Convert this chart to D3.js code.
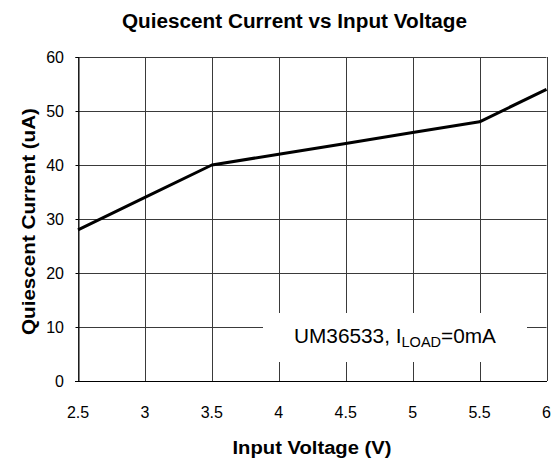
<!DOCTYPE html>
<html>
<head>
<meta charset="utf-8">
<script src="https://cdn.jsdelivr.net/npm/d3@7"></script>
<style>
  body { margin: 0; background: #fff; }
  text { font-family: "Liberation Sans", Arial, sans-serif; }
</style>
</head>
<body>
<div id="chart"></div>
<script>
// values
const voltage = [2.5, 3, 3.5, 4, 4.5, 5, 5.5, 6];
const current = [28, 34, 40, 42, 44, 46, 48, 54];
const xTicks = [2.5, 3, 3.5, 4, 4.5, 5, 5.5, 6];
const yTicks = [0, 10, 20, 30, 40, 50, 60];

const width = 554, height = 465,
    margin = {left: 78, top: 57, right: 7.5, bottom: 84};

const svg = d3.select("#chart")
    .append("svg")
        .attr("width", width)
        .attr("height", height);

const x = d3.scaleLinear().domain([2.5, 6]).range([margin.left, width - margin.right]);
const y = d3.scaleLinear().domain([0, 60]).range([height - margin.bottom, margin.top]);

// grid
svg.append("g")
    .selectAll("line")
    .data(xTicks)
    .enter().append("line")
        .attr("x1", d => Math.round(x(d)) + 0.5)
        .attr("x2", d => Math.round(x(d)) + 0.5)
        .attr("y1", y(0))
        .attr("y2", y(60))
        .attr("stroke", "#3a3a3a")
        .attr("stroke-width", 1);

svg.append("g")
    .selectAll("line")
    .data(yTicks)
    .enter().append("line")
        .attr("x1", x(2.5))
        .attr("x2", x(6))
        .attr("y1", d => Math.round(y(d)) + 0.5)
        .attr("y2", d => Math.round(y(d)) + 0.5)
        .attr("stroke", "#3a3a3a")
        .attr("stroke-width", 1);

// left axis line with small outward ticks
const yAxis = d3.axisLeft(y).tickValues(yTicks).tickSize(3).tickFormat("");
svg.append("g")
    .attr("transform", `translate(${Math.round(x(2.5)) + 0.5},0)`)
    .call(yAxis)
    .call(g => g.select(".domain").attr("stroke", "#000"));

svg.append("line")
    .attr("x1", x(2.5) - 3).attr("x2", x(6) + 0.5)
    .attr("y1", Math.round(y(0)) + 0.5).attr("y2", Math.round(y(0)) + 0.5)
    .attr("stroke", "#000").attr("stroke-width", 1.2);

// tick labels
svg.append("g")
    .selectAll("text")
    .data(yTicks)
    .enter().append("text")
        .attr("x", x(2.5) - 14)
        .attr("y", d => y(d) + 5.5)
        .attr("text-anchor", "end")
        .attr("font-size", 16)
        .text(d => d);

svg.append("g")
    .selectAll("text")
    .data(xTicks)
    .enter().append("text")
        .attr("x", d => x(d))
        .attr("y", y(0) + 37)
        .attr("text-anchor", "middle")
        .attr("font-size", 16)
        .text(d => d);

// legend box (white, covers the grid)
const box = svg.append("g");
box.append("rect")
    .attr("x", 263).attr("y", 313)
    .attr("width", 264).attr("height", 49)
    .attr("fill", "#fff");
const lab = box.append("text")
    .attr("x", 294).attr("y", 343)
    .attr("font-size", 20)
    .attr("textLength", 202)
    .attr("lengthAdjust", "spacingAndGlyphs");
lab.append("tspan").text("UM36533, I");
lab.append("tspan").attr("font-size", 14).attr("dy", 4).text("LOAD");
lab.append("tspan").attr("dy", -4).text("=0mA");

// data line
const line = d3.line()
    .x((d, i) => x(voltage[i]))
    .y(d => y(d));

svg.append("path")
    .datum(current)
    .attr("d", line)
    .attr("fill", "none")
    .attr("stroke", "#000")
    .attr("stroke-width", 3)
    .attr("stroke-linejoin", "round");

// titles
svg.append("text")
    .attr("x", 294.5).attr("y", 27.5)
    .attr("text-anchor", "middle")
    .attr("font-size", 19.5).attr("font-weight", "bold")
    .attr("textLength", 345).attr("lengthAdjust", "spacingAndGlyphs")
    .text("Quiescent Current vs Input Voltage");

svg.append("text")
    .attr("x", 312).attr("y", 454)
    .attr("text-anchor", "middle")
    .attr("font-size", 18).attr("font-weight", "bold")
    .attr("textLength", 159).attr("lengthAdjust", "spacingAndGlyphs")
    .text("Input Voltage (V)");

svg.append("text")
    .attr("transform", "translate(35,221.5) rotate(-90)")
    .attr("text-anchor", "middle")
    .attr("font-size", 18).attr("font-weight", "bold")
    .attr("textLength", 227).attr("lengthAdjust", "spacingAndGlyphs")
    .text("Quiescent Current (uA)");
</script>
</body>
</html>
